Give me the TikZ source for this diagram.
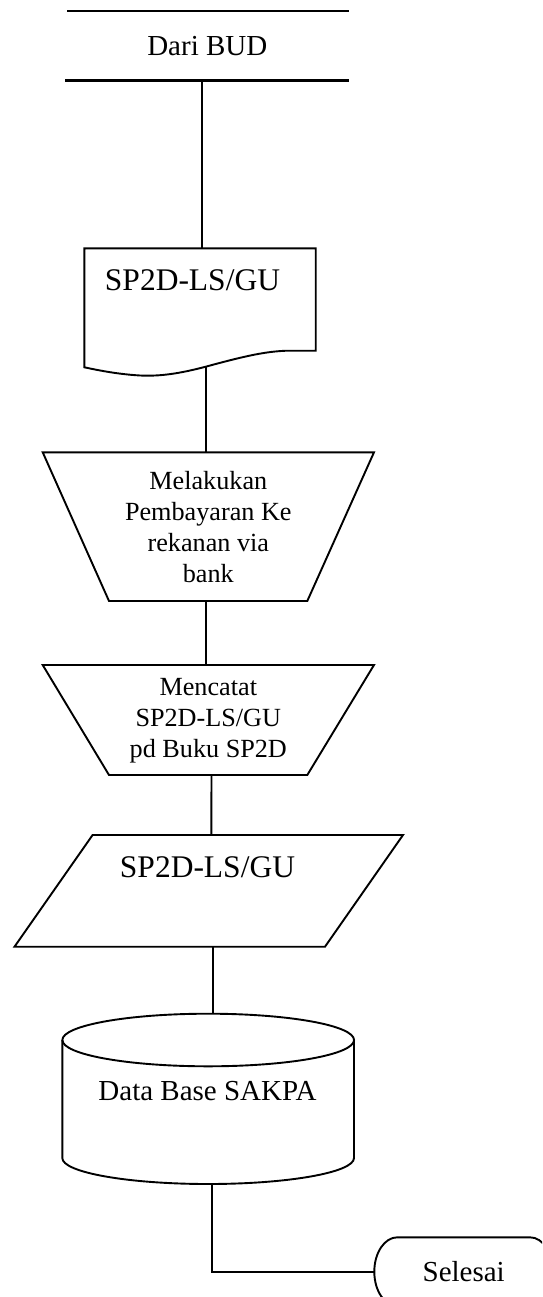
\documentclass[tikz,border=0pt]{standalone}
\usepackage{fontspec}
\setmainfont{Liberation Serif}
\begin{document}
\begin{tikzpicture}[x=1pt,y=-1pt,
  box/.style={draw=none,inner sep=0pt,outer sep=0pt},
  outline/.style={draw=black,line width=1.9pt,line join=miter},
  bar/.style={draw=black,line width=2.6pt},
  link/.style={draw=black,line width=1.9pt},
  bigtxt/.style={font=\fontsize{31.5}{36}\selectfont},
  midtxt/.style={font=\fontsize{29}{34}\selectfont},
  smalltxt/.style={font=\fontsize{26.2}{31}\selectfont,align=center}]
\useasboundingbox (0,0) rectangle (542,1297);
\clip (0,0) rectangle (542,1297);
\fill[white] (0,0) rectangle (542,1297);

% --- source: Dari BUD ---
\node[box,midtxt,minimum width=284pt,minimum height=69.7pt] (bud) at (207.3,45.9) {Dari BUD};
\draw[bar] (67.3,11) -- (349,11);
\draw[bar] (65,80.7) -- (349,80.7);

% --- document SP2D-LS/GU ---
\node[box,minimum width=231.4pt,minimum height=118.7pt] (doc) at (200,307.7) {};
\draw[outline] (84.3,248.3) -- (315.7,248.3) -- (315.7,350.7) -- (287,350.7)
  .. controls (265,351.5) and (245,356) .. (205.7,366.7)
  .. controls (180,373.5) and (160,376.5) .. (140,375.5)
  .. controls (115,374) and (95,369.5) .. (84.3,367.3) -- cycle;
\node[box,bigtxt,anchor=base] (doctxt) at (192.5,290) {SP2D-LS/GU};

% --- manual operation: payment ---
\node[box,smalltxt,minimum width=331.3pt,minimum height=148.7pt] (pay) at (208.3,526.65)
  {Melakukan\\Pembayaran Ke\\rekanan via\\bank};
\draw[outline] (42.7,452.3) -- (374,452.3) -- (307.3,601) -- (109,601) -- cycle;

% --- manual operation: recording ---
\node[box,smalltxt,minimum width=331.3pt,minimum height=110pt] (rec) at (208.3,721)
  {Mencatat\\SP2D-LS/GU\\pd Buku SP2D};
\draw[outline] (42.7,665) -- (374,665) -- (307.3,775) -- (109,775) -- cycle;

% --- data: SP2D-LS/GU ---
\node[box,minimum width=388.5pt,minimum height=111.7pt] (data) at (208.8,890.85) {};
\draw[outline] (92.6,835) -- (403,835) -- (325,946.7) -- (14.5,946.7) -- cycle;
\node[box,bigtxt,anchor=base] (datatxt) at (207.5,877) {SP2D-LS/GU};

% --- storage: Data Base SAKPA ---
\node[box,minimum width=291.7pt,minimum height=170pt] (db) at (208.2,1099) {};
\draw[outline] (62.3,1040) -- (62.3,1158)
  arc[start angle=180,end angle=0,x radius=145.85,y radius=26] -- (354.0,1040);
\draw[outline] (208.2,1040) ellipse[x radius=145.85,y radius=26.3];
\node[box,midtxt,anchor=base] (dbtxt) at (207.5,1100.4) {Data Base SAKPA};

% --- terminator: Selesai ---
\node[box,midtxt,minimum width=178.7pt,minimum height=68.8pt] (end) at (463.7,1271.7) {Selesai};
\draw[outline] (397.3,1237.3) -- (530,1237.3)
  arc[start angle=-90,end angle=90,x radius=23,y radius=34.4] -- (397.3,1306.1)
  arc[start angle=90,end angle=270,x radius=23,y radius=34.4] -- cycle;

% --- flow lines ---
\draw[link,line width=2.3pt] ([xshift=-5pt]bud.south) -- ([xshift=2.3pt]doc.north);
\draw[link] ([xshift=5.7pt]doc.south) -- ([xshift=-2.6pt]pay.north);
\draw[link] ([xshift=-2.6pt]pay.south) -- ([xshift=-2.6pt]rec.north);
\draw[link] ([xshift=3.2pt]rec.south) -- ([xshift=2.5pt]data.north);
\draw[link] ([xshift=4.5pt]data.south) -- ([xshift=5.1pt]db.north);
\draw[link] ([xshift=3.5pt]db.south) |- (end.west);
\end{tikzpicture}
\end{document}
